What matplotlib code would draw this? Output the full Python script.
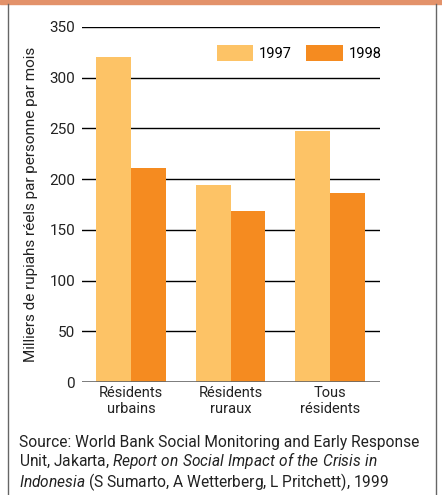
import numpy as np
import matplotlib.pyplot as plt
from matplotlib.patches import Rectangle
from matplotlib.lines import Line2D

# data
categories = ['Résidents\nurbains', 'Résidents\nruraux', 'Tous\nrésidents']
years = ['1997', '1998']
vals_1997 = [320, 194, 247]
vals_1998 = [211, 169, 186]
colors = ['#FDC366', '#F58B20']

plt.rcParams['font.family'] = ['Roboto', 'DejaVu Sans']
plt.rcParams['mathtext.fontset'] = 'custom'
plt.rcParams['mathtext.it'] = 'Roboto:italic'
plt.rcParams['mathtext.rm'] = 'Roboto'

fig = plt.figure(figsize=(4.42, 4.95), dpi=100)
W, H = 442, 495
ax = fig.add_axes([82 / W, 113 / H, (380 - 82) / W, (382 - 27) / H])

x = np.arange(len(categories))
w = 0.35
ax.bar(x - w / 2, vals_1997, w, color=colors[0], zorder=2, label=years[0])
ax.bar(x + w / 2, vals_1998, w, color=colors[1], zorder=2, label=years[1])

ax.set_xlim(-0.49, 2.5)
ax.set_ylim(0, 350)
ax.set_yticks(range(0, 351, 50))
for t in range(50, 351, 50):
    ax.axhline(t, color='black', lw=1, zorder=1)
ax.axhline(0, color='#666666', lw=1.2, zorder=3)
for s in ax.spines.values():
    s.set_visible(False)
ax.tick_params(axis='y', length=0, pad=5, labelsize=11, colors='#222222')
ax.tick_params(axis='x', length=0, pad=3, labelsize=10.5, colors='#222222')
ax.set_xticks(x)
ax.set_xticklabels(categories, linespacing=1.15)
ax.set_ylabel('Milliers de rupiahs réels par personne par mois', fontsize=11,
              color='#222222', labelpad=8)

ax.legend(loc='upper right', bbox_to_anchor=(1.005, 0.95), ncol=2, frameon=False,
          fontsize=10.5, handlelength=2.5, handleheight=1.3, columnspacing=1.0,
          handletextpad=0.4, borderaxespad=0, borderpad=0)

# page frame
fig.patches.append(Rectangle((0, 1 - 4 / H), 1, 4 / H, transform=fig.transFigure,
                             color='#E3926A', zorder=0))
fig.add_artist(Line2D([8 / W, 8 / W], [0, 1 - 4 / H], transform=fig.transFigure,
                      color='#666666', lw=1))
fig.add_artist(Line2D([436 / W, 436 / W], [0, 1 - 4 / H], transform=fig.transFigure,
                      color='#666666', lw=1))

# source
source = ('Source: World Bank Social Monitoring and Early Response\n'
          'Unit, Jakarta, $\\it{Report\\ on\\ Social\\ Impact\\ of\\ the\\ Crisis\\ in}$\n'
          '$\\it{Indonesia}$ (S Sumarto, A Wetterberg, L Pritchett), 1999')
fig.text(19 / W, 1 - 464 / H, source, fontsize=11.2, va='center', color='#222222',
         linespacing=0.98)

fig.savefig('out.png', dpi=100)
